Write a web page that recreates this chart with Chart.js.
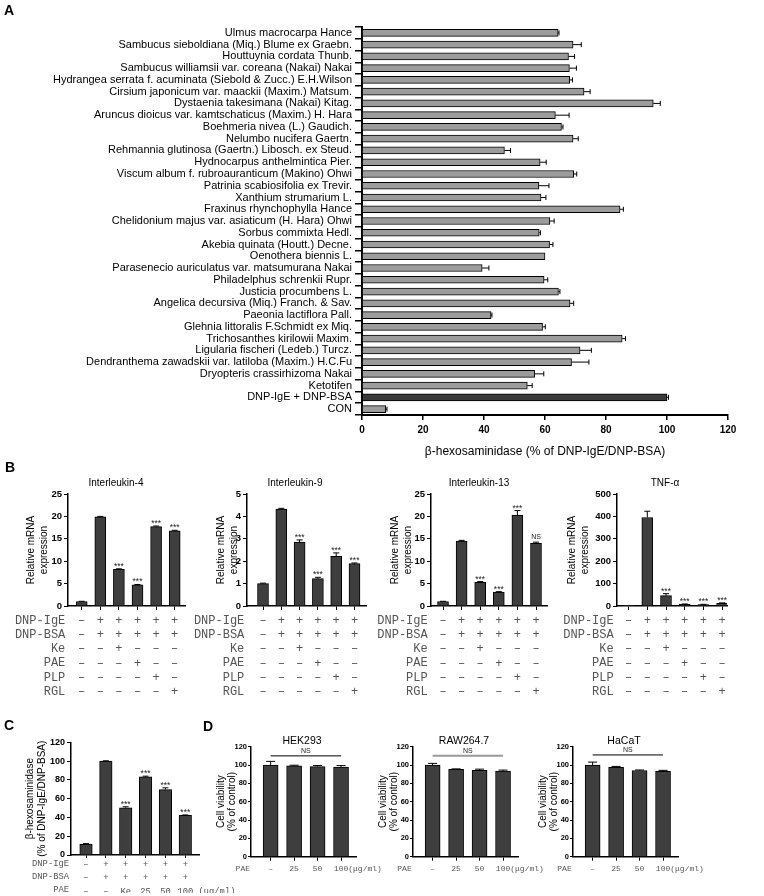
<!DOCTYPE html>
<html>
<head>
<meta charset="utf-8">
<script src="https://cdn.jsdelivr.net/npm/chart.js@4.4.0/dist/chart.umd.min.js"></script>
<style>
  body { margin: 0; background: #fff; width: 764px; height: 896px; position: relative; overflow: hidden; font-family: "Liberation Sans", Arial, sans-serif; }
  canvas { position: absolute; }
  .panel { position: absolute; font-weight: bold; font-size: 14px; line-height: 14px; }
  .rows { position: absolute; font-family: "Liberation Mono", "Courier New", monospace; color: #555; text-align: right; white-space: pre; }
</style>
</head>
<body>
<canvas id="chartA"></canvas>
<canvas id="il4"></canvas>
<canvas id="il9"></canvas>
<canvas id="il13"></canvas>
<canvas id="tnf"></canvas>
<canvas id="chartC"></canvas>
<canvas id="hek"></canvas>
<canvas id="raw"></canvas>
<canvas id="hacat"></canvas>
<div class="panel" style="left:4px;top:3px">A</div>
<div class="panel" style="left:5px;top:460px">B</div>
<div class="panel" style="left:4px;top:718px">C</div>
<div class="panel" style="left:203px;top:719px">D</div>
<script>
// ---- panel A: screening of extracts ----
const aLabels = ['Ulmus macrocarpa Hance', 'Sambucus sieboldiana (Miq.) Blume ex Graebn.', 'Houttuynia cordata Thunb.',
  'Sambucus williamsii var. coreana (Nakai) Nakai', 'Hydrangea serrata f. acuminata (Siebold & Zucc.) E.H.Wilson',
  'Cirsium japonicum var. maackii (Maxim.) Matsum.', 'Dystaenia takesimana (Nakai) Kitag.',
  'Aruncus dioicus var. kamtschaticus (Maxim.) H. Hara', 'Boehmeria nivea (L.) Gaudich.', 'Nelumbo nucifera Gaertn.',
  'Rehmannia glutinosa (Gaertn.) Libosch. ex Steud.', 'Hydnocarpus anthelmintica Pier.',
  'Viscum album f. rubroauranticum (Makino) Ohwi', 'Patrinia scabiosifolia ex Trevir.', 'Xanthium strumarium L.',
  'Fraxinus rhynchophylla Hance', 'Chelidonium majus var. asiaticum (H. Hara) Ohwi', 'Sorbus commixta Hedl.',
  'Akebia quinata (Houtt.) Decne.', 'Oenothera biennis L.', 'Parasenecio auriculatus var. matsumurana Nakai',
  'Philadelphus schrenkii Rupr.', 'Justicia procumbens L.', 'Angelica decursiva (Miq.) Franch. & Sav.',
  'Paeonia lactiflora Pall.', 'Glehnia littoralis F.Schmidt ex Miq.', 'Trichosanthes kirilowii Maxim.',
  'Ligularia fischeri (Ledeb.) Turcz.', 'Dendranthema zawadskii var. latiloba (Maxim.) H.C.Fu',
  'Dryopteris crassirhizoma Nakai', 'Ketotifen', 'DNP-IgE + DNP-BSA', 'CON'];
const aValues = [64.3, 69.2, 67.7, 68.0, 68.1, 72.8, 95.5, 63.4, 65.4, 69.2, 46.7, 58.4, 69.4, 58.0, 58.7, 84.6, 61.6,
  58.1, 61.5, 60.0, 39.4, 59.7, 64.4, 68.2, 42.3, 59.2, 85.3, 71.5, 68.7, 56.6, 54.2, 100, 7.8];
const aErrors = [0.3, 2.7, 2.0, 2.3, 0.9, 2.0, 2.3, 4.5, 0.5, 1.7, 2.0, 2.0, 1.0, 3.3, 1.6, 1.1, 1.4, 0.4, 1.1, 0,
  2.2, 1.2, 0.5, 1.2, 0.3, 0.9, 1.1, 3.7, 5.7, 3.0, 1.6, 0.5, 0.4];
const aTicks = [0, 20, 40, 60, 80, 100, 120];

// ---- panel B: mRNA expression ----
const bRowNames = ['DNP-IgE', 'DNP-BSA', 'Ke', 'PAE', 'PLP', 'RGL'];
const bIgE = ['–', '+', '+', '+', '+', '+'];
const bBSA = ['–', '+', '+', '+', '+', '+'];
const bKe  = ['–', '–', '+', '–', '–', '–'];
const bPAE = ['–', '–', '–', '+', '–', '–'];
const bPLP = ['–', '–', '–', '–', '+', '–'];
const bRGL = ['–', '–', '–', '–', '–', '+'];
const il4Values = [1.0, 19.9, 8.2, 4.7, 17.7, 16.8];
const il4Errors = [0.05, 0.1, 0.1, 0.1, 0.15, 0.1];
const il4Marks = ['', '', '***', '***', '***', '***'];
const il9Values = [1.0, 4.33, 2.85, 1.22, 2.22, 1.89];
const il9Errors = [0.02, 0.03, 0.1, 0.06, 0.15, 0.03];
const il9Marks = ['', '', '***', '***', '***', '***'];
const il13Values = [1.0, 14.5, 5.3, 3.1, 20.3, 14.0];
const il13Errors = [0.05, 0.15, 0.15, 0.1, 1.0, 0.25];
const il13Marks = ['', '', '***', '***', '***', 'NS'];
const tnfValues = [1, 395, 46, 7, 6, 12];
const tnfErrors = [0, 28, 9, 2, 1.5, 2];
const tnfMarks = ['', '', '***', '***', '***', '***'];

// ---- panel C: degranulation ----
const cRowNames = ['DNP-IgE', 'DNP-BSA', 'PAE'];
const cIgE = ['–', '+', '+', '+', '+', '+'];
const cBSA = ['–', '+', '+', '+', '+', '+'];
const cPAE = ['–', '–', 'Ke', '25', '50', '100'];
const cUnit = ' (μg/ml)';
const cValues = [11.4, 100, 50.4, 83.4, 69.6, 42.2];
const cErrors = [0.7, 0.4, 1.0, 0.6, 2.0, 0.5];
const cMarks = ['', '', '***', '***', '***', '***'];

// ---- panel D: cell viability ----
const dRowName = 'PAE';
const dDoses = ['–', '25', '50', '100'];
const dUnit = '(μg/ml)';
const hekValues = [100, 99, 98.3, 97.8];
const hekErrors = [4, 0.8, 1.2, 1.6];
const rawValues = [100, 95.2, 94.2, 93.3];
const rawErrors = [1.8, 0.6, 1.3, 1.2];
const hacatValues = [100, 97.5, 94, 93];
const hacatErrors = [3.2, 1.0, 0.6, 1.2];

const SANS = '"Liberation Sans", Arial, sans-serif';
const MONO = '"Liberation Mono", "Courier New", monospace';
Chart.defaults.font.family = SANS;

// label centred on its tick, unit hanging off to the right
const withUnit = (s, unit) => ' '.repeat(unit.length) + s + unit;

// error bars and significance marks
const errorBars = {
  id: 'errorBars',
  afterDatasetsDraw(chart, args, opts) {
    const ds = chart.data.datasets[0];
    const meta = chart.getDatasetMeta(0);
    const horiz = chart.options.indexAxis === 'y';
    const scale = horiz ? chart.scales.x : chart.scales.y;
    const ctx = chart.ctx;
    const half = opts.cap / 2;
    ctx.save();
    ctx.strokeStyle = '#000';
    ctx.lineWidth = 1;
    meta.data.forEach((bar, i) => {
      const err = ds.errors[i];
      const tip = scale.getPixelForValue(ds.values[i] + err);
      if (err > 0) {
        ctx.beginPath();
        if (horiz) {
          ctx.moveTo(bar.x, bar.y); ctx.lineTo(tip, bar.y);
          ctx.moveTo(tip, bar.y - half); ctx.lineTo(tip, bar.y + half);
        } else {
          ctx.moveTo(bar.x, bar.y); ctx.lineTo(bar.x, tip);
          ctx.moveTo(bar.x - half, tip); ctx.lineTo(bar.x + half, tip);
        }
        ctx.stroke();
      }
      const mark = ds.marks && ds.marks[i];
      if (mark) {
        ctx.fillStyle = '#222';
        ctx.font = mark === 'NS' ? '7px ' + SANS : '8.5px ' + SANS;
        ctx.textAlign = 'center';
        ctx.textBaseline = 'alphabetic';
        ctx.fillText(mark, bar.x, tip - (mark === 'NS' ? 3 : 0));
      }
    });
    ctx.restore();
  }
};

// small title above a plot
const panelTitle = {
  id: 'panelTitle',
  afterDraw(chart, args, opts) {
    if (!opts.text) return;
    const ctx = chart.ctx;
    ctx.save();
    ctx.font = opts.size + 'px ' + SANS;
    ctx.fillStyle = '#000';
    ctx.textAlign = 'center';
    ctx.textBaseline = 'middle';
    ctx.fillText(opts.text, chart.chartArea.left + opts.dx, opts.y);
    ctx.restore();
  }
};

// NS bracket across the bars
const nsLine = {
  id: 'nsLine',
  afterDatasetsDraw(chart, args, opts) {
    if (!opts.text) return;
    const meta = chart.getDatasetMeta(0);
    const y = chart.scales.y.getPixelForValue(opts.value);
    const x1 = meta.data[opts.from].x, x2 = meta.data[opts.to].x;
    const ctx = chart.ctx;
    ctx.save();
    ctx.strokeStyle = opts.color;
    ctx.lineWidth = opts.width;
    ctx.beginPath(); ctx.moveTo(x1, y); ctx.lineTo(x2, y); ctx.stroke();
    ctx.fillStyle = '#222';
    ctx.font = '7px ' + SANS;
    ctx.textAlign = 'center';
    ctx.textBaseline = 'alphabetic';
    ctx.fillText(opts.text, (x1 + x2) / 2, y - 2.5);
    ctx.restore();
  }
};

// panel A
(function () {
  const cv = document.getElementById('chartA');
  cv.width = 764; cv.height = 470;
  cv.style.left = '0px'; cv.style.top = '0px';
  new Chart(cv, {
    type: 'bar',
    data: {
      labels: aLabels,
      datasets: [{
        data: aValues, values: aValues, errors: aErrors,
        backgroundColor: aLabels.map(l => l === 'DNP-IgE + DNP-BSA' ? '#3a3a3a' : '#9c9c9c'),
        borderColor: '#000', borderWidth: 1, barThickness: 7
      }]
    },
    options: {
      indexAxis: 'y', responsive: false, animation: false, devicePixelRatio: 1,
      layout: { padding: { left: 0, right: 36, top: 27, bottom: 0 } },
      plugins: { legend: { display: false }, tooltip: { enabled: false }, errorBars: { cap: 5 } },
      scales: {
        x: {
          min: 0, max: 120,
          afterBuildTicks: s => { s.ticks = aTicks.map(v => ({ value: v })); },
          afterFit: s => { s.height = 55; },
          ticks: { color: '#000', padding: 4, font: { size: 10, weight: 'bold' } },
          grid: { drawOnChartArea: false, color: '#000', tickLength: 5, lineWidth: 1.5 },
          border: { color: '#000', width: 2 },
          title: { display: true, text: 'β-hexosaminidase (% of DNP-IgE/DNP-BSA)', color: '#000',
                   font: { size: 12 }, padding: { top: 0, bottom: 10.8 } }
        },
        y: {
          afterFit: s => { s.width = 362; },
          ticks: { autoSkip: false, color: '#000', padding: 3, font: { size: 11 } },
          grid: { drawOnChartArea: false, color: '#000', tickLength: 7, lineWidth: 1.5 },
          border: { color: '#000', width: 2 }
        }
      }
    },
    plugins: [errorBars]
  });
})();

// column chart with fixed plot geometry
function columnChart(id, o) {
  const cv = document.getElementById(id);
  const width = o.yWidth + o.axisLen + o.padRight;
  cv.width = width; cv.height = o.height;
  cv.style.left = (o.L - o.yWidth) + 'px';
  cv.style.top = o.top + 'px';
  const padTop = o.axisTop - o.top;
  const plotH = o.axisBottom - o.axisTop;
  const padBottom = o.height - padTop - plotH - o.xHeight;
  return new Chart(cv, {
    type: 'bar',
    data: {
      datasets: [{
        data: o.values.map((v, i) => ({ x: i, y: v })),
        values: o.values, errors: o.errors, marks: o.marks,
        backgroundColor: '#3e3e3e', borderColor: '#000', borderWidth: 1, barThickness: o.barWidth
      }]
    },
    options: {
      responsive: false, animation: false, devicePixelRatio: 1,
      layout: { padding: { left: 0, right: o.padRight, top: padTop, bottom: padBottom } },
      plugins: {
        legend: { display: false }, tooltip: { enabled: false },
        errorBars: { cap: o.cap },
        panelTitle: { text: o.title, dx: o.titleDx, y: o.titleY - o.top, size: o.titleSize },
        nsLine: o.ns || {}
      },
      scales: {
        x: {
          type: 'linear', offset: false, bounds: 'data',
          min: -o.first / o.spacing, max: (o.axisLen - o.first) / o.spacing,
          afterBuildTicks: s => { s.ticks = o.values.map((_, i) => ({ value: i })); },
          afterFit: s => { s.height = o.xHeight; },
          ticks: {
            callback: v => o.xLabels[Math.round(v)], autoSkip: false, maxRotation: 0, minRotation: 0,
            padding: o.xPad, color: '#555',
            font: { family: MONO, size: o.xSize, lineHeight: o.xLine / o.xSize }
          },
          grid: { offset: false, drawOnChartArea: false, color: '#000', tickLength: o.xTick },
          border: { color: '#000', width: 1.5 }
        },
        y: {
          min: 0, max: o.yMax,
          afterFit: s => { s.width = o.yWidth; },
          ticks: { stepSize: o.yStep, color: '#000', padding: o.yPad, font: { size: o.yTickSize, weight: 'bold' } },
          grid: { drawOnChartArea: false, color: '#000', tickLength: o.yTick },
          border: { color: '#000', width: 1.5 },
          title: {
            display: true, text: o.yTitle, color: '#000',
            font: { size: o.yTitleSize, lineHeight: o.yTitleLine / o.yTitleSize },
            padding: { top: o.yWidth - o.titleX - o.yTitleLine / 2, bottom: 0 }
          }
        }
      }
    },
    plugins: [errorBars, panelTitle, nsLine]
  });
}

function rowLabels(names, right, firstY, lineH, size) {
  const d = document.createElement('div');
  d.className = 'rows';
  d.style.right = (764 - right) + 'px';
  d.style.top = (firstY - lineH / 2) + 'px';
  d.style.lineHeight = lineH + 'px';
  d.style.fontSize = size + 'px';
  d.textContent = names.join('\n');
  document.body.appendChild(d);
}

// panel B
const bColumns = bIgE.map((_, i) => [bIgE[i], bBSA[i], bKe[i], bPAE[i], bPLP[i], bRGL[i]]);
const bBase = {
  top: 470, height: 240, axisTop: 494, axisBottom: 606, yWidth: 68, padRight: 6,
  xHeight: 96, xLabels: bColumns, xSize: 12, xLine: 14.3, xPad: 3.5, xTick: 4,
  yTick: 4, yPad: 2, yTickSize: 9.5, yTitle: ['Relative mRNA', 'expression'], yTitleSize: 10, yTitleLine: 13.3,
  barWidth: 11, cap: 6, titleDx: 48, titleY: 483, titleSize: 10
};
const bCharts = [
  { id: 'il4', L: 68.3, first: 13.7, spacing: 18.6, axisLen: 117, yMax: 25, yStep: 5, titleX: 36.6,
    title: 'Interleukin-4', values: il4Values, errors: il4Errors, marks: il4Marks },
  { id: 'il9', L: 247.3, first: 16, spacing: 18.3, axisLen: 119, yMax: 5, yStep: 1, titleX: 25.6,
    title: 'Interleukin-9', values: il9Values, errors: il9Errors, marks: il9Marks },
  { id: 'il13', L: 430.7, first: 12, spacing: 18.6, axisLen: 116, yMax: 25, yStep: 5, titleX: 35.7,
    title: 'Interleukin-13', values: il13Values, errors: il13Errors, marks: il13Marks },
  { id: 'tnf', L: 616.7, first: 11.6, spacing: 18.7, axisLen: 110, yMax: 500, yStep: 100, titleX: 44.7,
    title: 'TNF-α', values: tnfValues, errors: tnfErrors, marks: tnfMarks }
];
bCharts.forEach(c => {
  columnChart(c.id, Object.assign({}, bBase, c));
  rowLabels(bRowNames, c.L - 3, 620.7, 14.3, 12);
});

// panel C
const cColumns = cIgE.map((_, i) => [cIgE[i], cBSA[i], i === cPAE.length - 1 ? withUnit(cPAE[i], cUnit) : cPAE[i]]);
columnChart('chartC', {
  L: 71, top: 735, height: 161, axisTop: 742.3, axisBottom: 855, yWidth: 71, padRight: 48,
  first: 15, spacing: 19.86, axisLen: 128, yMax: 120, yStep: 20,
  xHeight: 38, xLabels: cColumns, xSize: 8.8, xLine: 13.3, xPad: 0, xTick: 3,
  yTick: 4, yPad: 2, yTickSize: 9, yTitle: ['β-hexosaminidase', '(% of DNP-IgE/DNP-BSA)'],
  yTitleSize: 10, yTitleLine: 12, titleX: 41,
  barWidth: 12.5, cap: 6, values: cValues, errors: cErrors, marks: cMarks
});
rowLabels(cRowNames, 69, 864.5, 13.3, 8.8);

// panel D
const dColumns = dDoses.map((d, i) => i === dDoses.length - 1 ? withUnit(d, dUnit) : d);
const dBase = {
  top: 725, height: 171, axisTop: 746.7, axisBottom: 856.7, yWidth: 42, padRight: 32,
  first: 20, spacing: 23.9, axisLen: 107.3, yMax: 120, yStep: 20,
  xHeight: 30, xLabels: dColumns, xSize: 8, xLine: 9.6, xPad: 3.5, xTick: 4,
  yTick: 3, yPad: 1, yTickSize: 7.5, yTitle: ['Cell viability', '(% of control)'],
  yTitleSize: 10, yTitleLine: 10.6, titleX: 29.3,
  barWidth: 15, cap: 9, titleDx: 51, titleY: 741, titleSize: 10.5,
  marks: ['', '', '', '']
};
const dCharts = [
  { id: 'hek', L: 251, title: 'HEK293', values: hekValues, errors: hekErrors,
    ns: { text: 'NS', from: 0, to: 3, value: 110, color: '#000', width: 1 } },
  { id: 'raw', L: 412.7, title: 'RAW264.7', values: rawValues, errors: rawErrors,
    ns: { text: 'NS', from: 0, to: 3, value: 110, color: '#999', width: 2 } },
  { id: 'hacat', L: 572.7, title: 'HaCaT', values: hacatValues, errors: hacatErrors,
    ns: { text: 'NS', from: 0, to: 3, value: 111, color: '#000', width: 1 } }
];
dCharts.forEach(c => {
  columnChart(c.id, Object.assign({}, dBase, c));
  rowLabels([dRowName], c.L - 1, 869, 10, 8);
});
</script>
</body>
</html>
